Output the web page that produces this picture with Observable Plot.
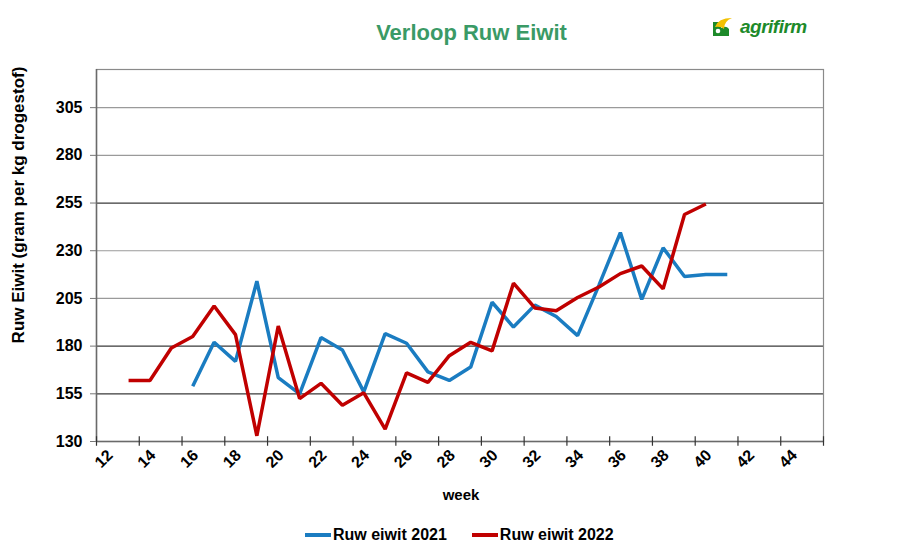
<!DOCTYPE html>
<html>
<head>
<meta charset="utf-8">
<script src="https://cdn.jsdelivr.net/npm/d3@7"></script>
<script src="https://cdn.jsdelivr.net/npm/@observablehq/plot@0.6"></script>
<style>
  html, body { margin: 0; padding: 0; background: #fff; }
  #wrap { position: relative; width: 913px; height: 557px; overflow: hidden; font-family: "Liberation Sans", Arial, sans-serif; }
  #title { position: absolute; left: 0; width: 943px; top: 20px; text-align: center; font-size: 22px; font-weight: bold; color: #3a9a66; }
  #logo { position: absolute; left: 712px; top: 16px; display: flex; align-items: center; }
  #logo span { font-size: 19px; font-weight: bold; font-style: italic; color: #1d8a2a; margin-left: 4px; letter-spacing: -0.5px; }
  #ylab { position: absolute; left: 0; top: 0; font-size: 17px; font-weight: bold; color: #000; white-space: nowrap; transform-origin: 0 0; }
  #xlab { position: absolute; left: 0; width: 922px; top: 486px; text-align: center; font-size: 15px; font-weight: bold; }
  #legend { position: absolute; top: 526px; left: 305px; display: flex; align-items: center; font-size: 16px; font-weight: bold; }
  .sw { display: inline-block; width: 26px; height: 4px; margin-right: 2px; }
  .item { display: flex; align-items: center; margin-right: 25px; }
  #chart { position: absolute; left: 0; top: 0; }
  #chart svg text { font-size: 16px !important; font-weight: bold; }
</style>
</head>
<body>
<div id="wrap">
  <div id="chart"></div>
  <div id="title">Verloop Ruw Eiwit</div>
  <div id="logo">
    <svg width="24" height="20" viewBox="0 0 24 20">
      <path d="M1 5 L9 5 L9 19 L1 19 Z" fill="#1d8a2a"/>
      <path d="M9 11 Q14 8 17 12 L17 19 L9 19 Z" fill="#1d8a2a"/>
      <path d="M3 10 Q6 1 20 1 Q12 4 12 12 Q9 9 3 10 Z" fill="#f2c100"/>
      <circle cx="6" cy="14" r="2.3" fill="#fff"/>
    </svg>
    <span>agrifirm</span>
  </div>
  <div id="xlab">week</div>
  <div id="legend">
    <div class="item"><span class="sw" style="background:#1a7cc1"></span>Ruw eiwit 2021</div>
    <div class="item"><span class="sw" style="background:#c00000"></span>Ruw eiwit 2022</div>
  </div>
</div>
<script>
// ---- data ----
const weeks2021 = [16,17,18,19,20,21,22,23,24,25,26,27,28,29,30,31,32,33,34,35,36,37,38,39,40,41];
const values2021 = [159,182,172,214,163.5,155,184.5,178,156,186.5,181.5,166.5,162,169,203,190,201.5,195.5,185.5,212,239.5,204.5,231.5,216.5,217.5,217.5];
const weeks2022 = [13,14,15,16,17,18,19,20,21,22,23,24,25,26,27,28,29,30,31,32,33,34,35,36,37,38,39,40];
const values2022 = [162,162,179,185,201,186,133,190.5,152.5,160.5,149,155.5,136.5,166,161,175,182,177.5,213,200,198.5,205.5,211,218,222,210,249,254.5];
const yTicks = [130,155,180,205,230,255,280,305];
const xTickLabels = [12,14,16,18,20,22,24,26,28,30,32,34,36,38,40,42,44];
const xBoundaries = [11.5,13.5,15.5,17.5,19.5,21.5,23.5,25.5,27.5,29.5,31.5,33.5,35.5,37.5,39.5,41.5,43.5,45.5];

const s2021 = weeks2021.map((w, i) => ({week: w, value: values2021[i]}));
const s2022 = weeks2022.map((w, i) => ({week: w, value: values2022[i]}));
const gridDark = [155, 180, 255];
const gridLight = [205, 230, 280, 305];

const plot = Plot.plot({
  width: 913,
  height: 557,
  marginLeft: 96,
  marginRight: 90,
  marginTop: 69,
  marginBottom: 116,
  style: {fontFamily: '"Liberation Sans", Arial, sans-serif', background: "transparent"},
  x: {domain: [11.5, 45.5]},
  y: {domain: [130, 325]},
  marks: [
    Plot.ruleY(gridLight, {stroke: "#9a9a9a", strokeWidth: 1.2}),
    Plot.ruleY(gridDark, {stroke: "#3a3a3a", strokeWidth: 1.2}),
    Plot.frame({stroke: "#8a8a8a", strokeWidth: 1.2}),
    Plot.ruleX([11.5], {stroke: "#6a6a6a", strokeWidth: 1.5}),
    Plot.ruleY([130], {stroke: "#6a6a6a", strokeWidth: 1.5}),
    Plot.ruleX(xBoundaries, {y1: 127.5, y2: 132.5, stroke: "#333", strokeWidth: 1.2}),
    Plot.axisY(yTicks, {tickSize: 6, tickPadding: 8, fontSize: 16, fontWeight: "bold", stroke: "#777", fill: "#000", label: null}),
    Plot.axisX(xTickLabels, {tickSize: 0, tickPadding: 11, tickRotate: -45, fontSize: 16, fontWeight: "bold", fill: "#000", label: null, dx: 3}),
    Plot.line(s2021, {x: "week", y: "value", stroke: "#1a7cc1", strokeWidth: 3.5, strokeLinejoin: "miter", strokeLinecap: "butt"}),
    Plot.line(s2022, {x: "week", y: "value", stroke: "#c00000", strokeWidth: 3.5, strokeLinejoin: "miter", strokeLinecap: "butt"})
  ]
});
document.getElementById("chart").appendChild(plot);

const yl = document.createElement("div");
yl.id = "ylab";
yl.textContent = "Ruw Eiwit (gram per kg drogestof)";
document.getElementById("wrap").appendChild(yl);
const w = yl.getBoundingClientRect().width;
yl.style.transform = `translate(9px, ${205 + w / 2}px) rotate(-90deg)`;
</script>
</body>
</html>
